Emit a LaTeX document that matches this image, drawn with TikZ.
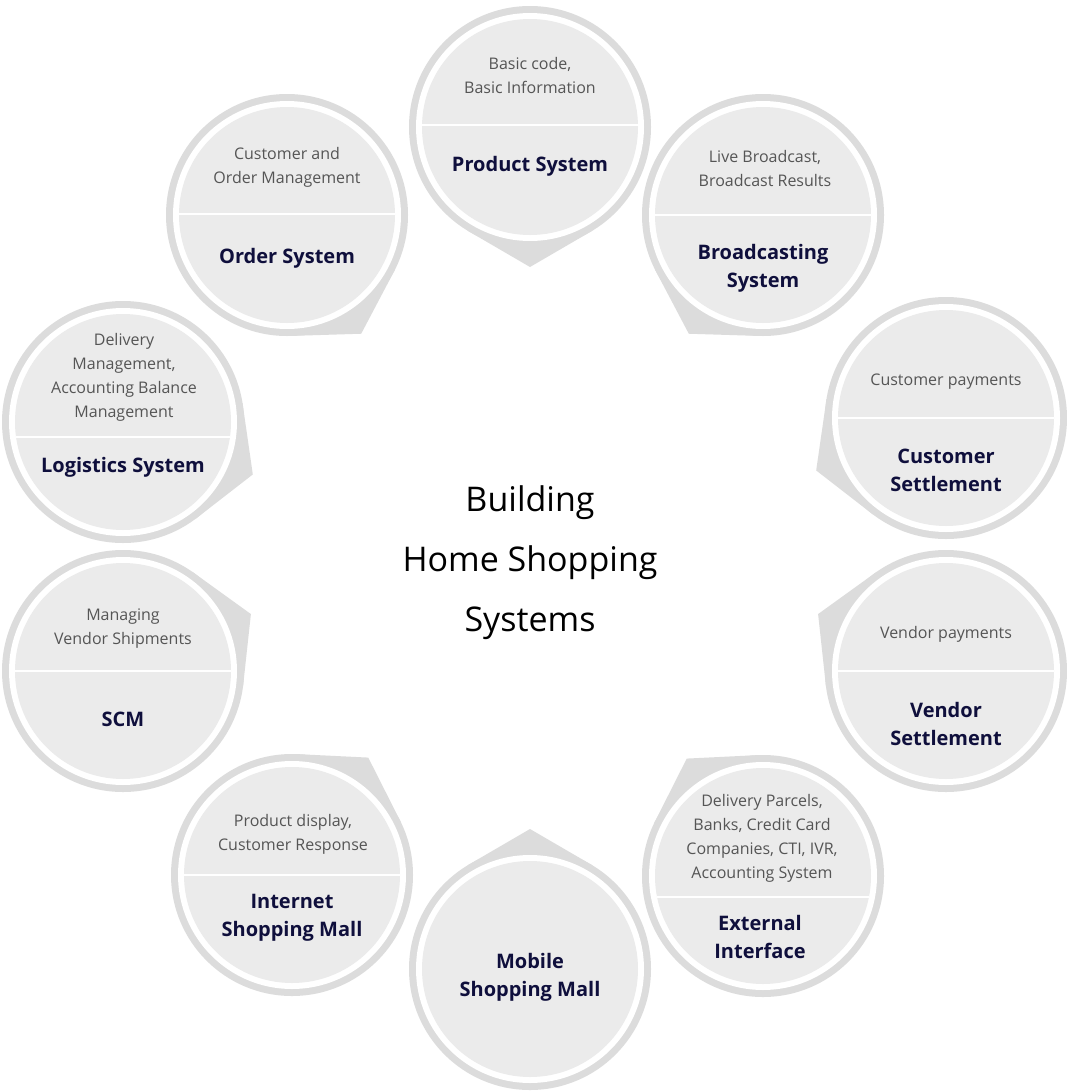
\documentclass[tikz,border=0pt]{standalone}
\usepackage{fontspec}
\setmainfont{Open Sans}
\usetikzlibrary{calc}
\definecolor{ringgray}{HTML}{DCDCDC}
\definecolor{discgray}{HTML}{EBEBEB}
\definecolor{navy}{HTML}{0F0F3C}
\definecolor{subgray}{HTML}{555555}
\tikzset{
  subtxt/.style={text=subgray, font=\fontsize{16}{24}\selectfont, align=center, inner sep=0pt},
  ttltxt/.style={text=navy, font=\fontsize{20}{28}\selectfont\bfseries, align=center, inner sep=0pt},
  centertxt/.style={text=black, font=\fontsize{34}{60}\selectfont, align=center, inner sep=0pt},
}
% #1 name, #2 centre, #3 tail angle
\newcommand\bubbleshape[3]{%
  \coordinate (#1) at (#2);
  \fill[ringgray] ($(#1)+(#3:140)$) -- ($(#1)+(#3+31:121)$) -- (#1) -- ($(#1)+(#3-31:121)$) -- cycle;
  \fill[ringgray] (#1) circle (121pt);
  \fill[white] (#1) circle (114pt);
  \fill[discgray] (#1) circle (108pt);
}
% #1 name, #2 divider offset
\newcommand\bubbledivider[2]{%
  \begin{scope}
    \clip (#1) circle (108pt);
    \draw[white, line width=2pt] ($(#1)+(-120,#2)$) -- ($(#1)+(120,#2)$);
  \end{scope}
}
\begin{document}
\begin{tikzpicture}[x=1pt,y=-1pt]
\useasboundingbox (0,0) rectangle (1067,1092);
\fill[white] (0,0) rectangle (1067,1092);

\bubbleshape{prod}{530,127}{90}
\bubbledivider{prod}{-2}
\node[subtxt] (prodsub) at (530,75) {Basic code,\\Basic Information};
\node[ttltxt] (prodttl) at (530,166) {Product System};

\bubbleshape{order}{287,215}{58}
\bubbledivider{order}{-1}
\node[subtxt] (ordersub) at (287,167) {Customer and\\Order Management};
\node[ttltxt] (orderttl) at (287,258) {Order System};

\bubbleshape{broad}{763,215}{122}
\bubbledivider{broad}{0}
\node[subtxt] (broadsub) at (765,168) {Live Broadcast,\\Broadcast Results};
\node[ttltxt] (broadttl) at (763,268) {Broadcasting\\System};

\bubbleshape{cust}{946,418}{158}
\bubbledivider{cust}{0}
\node[subtxt] (custsub) at (946,382) {Customer payments};
\node[ttltxt] (custttl) at (946,470) {Customer\\Settlement};

\bubbleshape{logi}{123,422}{22}
\bubbledivider{logi}{15}
\node[subtxt] (logisub) at (124,377) {Delivery\\Management,\\Accounting Balance\\Management};
\node[ttltxt] (logittl) at (123,467) {Logistics System};

\bubbleshape{scm}{123,671}{336}
\bubbledivider{scm}{0}
\node[subtxt] (scmsub) at (123,629) {Managing\\Vendor Shipments};
\node[ttltxt] (scmttl) at (123,719) {SCM};

\bubbleshape{vend}{946,671}{204}
\bubbledivider{vend}{0}
\node[subtxt] (vendsub) at (946,634) {Vendor payments};
\node[ttltxt] (vendttl) at (946,724) {Vendor\\Settlement};

\bubbleshape{inet}{292,875}{303}
\bubbledivider{inet}{0}
\node[subtxt] (inetsub) at (293,834) {Product display,\\Customer Response};
\node[ttltxt] (inetttl) at (292,918) {Internet\\Shopping Mall};

\bubbleshape{ext}{763,876}{237}
\bubbledivider{ext}{21}
\node[subtxt] (extsub) at (762,838) {Delivery Parcels,\\Banks, Credit Card\\Companies, CTI, IVR,\\Accounting System};
\node[ttltxt] (extttl) at (760,937) {External\\Interface};

\bubbleshape{mob}{530,969}{270}
\node[ttltxt] (mobttl) at (530,977) {Mobile\\Shopping Mall};

\node[centertxt] (center) at (530,563) {Building\\Home Shopping\\Systems};
\end{tikzpicture}
\end{document}
